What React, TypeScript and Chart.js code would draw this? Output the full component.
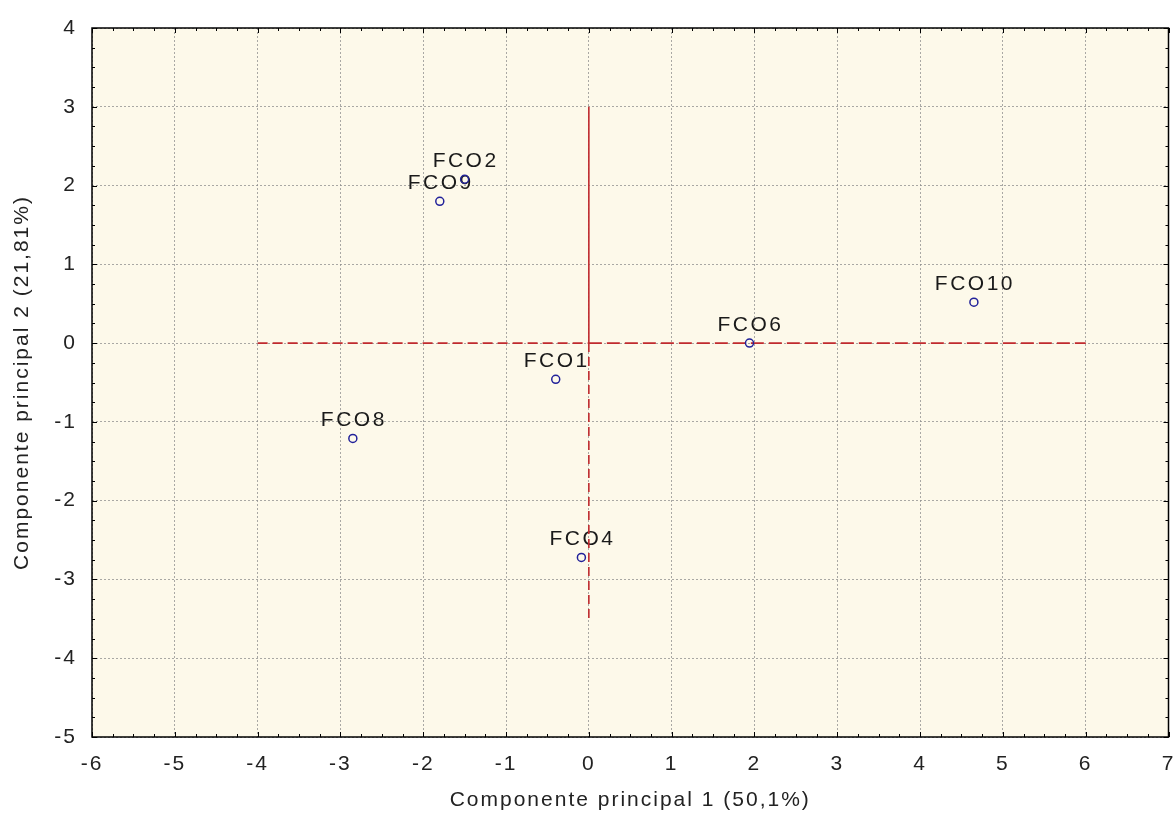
import React, { useEffect, useRef } from "react";
import { Chart, registerables } from "chart.js";

Chart.register(...registerables);

const pointLabels = ["FCO1", "FCO2", "FCO4", "FCO6", "FCO8", "FCO9", "FCO10"];
const pc1Values = [-0.4, -1.5, -0.09, 1.94, -2.85, -1.8, 4.65];
const pc2Values = [-0.46, 2.08, -2.72, 0.0, -1.21, 1.8, 0.52];

const xAxisTitle = "Componente principal 1 (50,1%)";
const yAxisTitle = "Componente principal 2 (21,81%)";
const xRange = [-6, 7];
const yRange = [-5, 4];

const refVerticalUpperX = [0, 0];
const refVerticalUpperY = [0, 3];
const refVerticalLowerX = [0, 0];
const refVerticalLowerY = [0, -3.5];
const refHorizontalLeftX = [-4, 0];
const refHorizontalLeftY = [0, 0];
const refHorizontalRightX = [0, 6];
const refHorizontalRightY = [0, 0];

const FONT = "'Liberation Sans', Arial, sans-serif";
const RED = "#c02a2e";

const toXY = (xs: number[], ys: number[]) => xs.map((x, i) => ({ x, y: ys[i] }));

const framePlugin = {
  id: "frame",
  beforeDraw(chart: any) {
    const { ctx, chartArea } = chart;
    ctx.letterSpacing = "2px";
    ctx.save();
    ctx.fillStyle = "#fdf9ea";
    ctx.fillRect(chartArea.left, chartArea.top, chartArea.right - chartArea.left, chartArea.bottom - chartArea.top);
    ctx.restore();
  },
  afterDraw(chart: any) {
    const { ctx, chartArea, scales } = chart;
    const { left, right, top, bottom } = chartArea;
    ctx.save();
    ctx.strokeStyle = "#000";
    ctx.lineWidth = 1;
    const xs = scales.x;
    const ys = scales.y;
    ctx.beginPath();
    for (let v = xRange[0]; v <= xRange[1] + 1e-9; v += 0.25) {
      const px = Math.round(xs.getPixelForValue(v)) + 0.5;
      const major = Math.abs(v - Math.round(v)) < 1e-6;
      const len = major ? 5 : 3;
      ctx.moveTo(px, bottom);
      ctx.lineTo(px, bottom - len);
      ctx.moveTo(px, top);
      ctx.lineTo(px, top + len);
    }
    for (let v = yRange[0]; v <= yRange[1] + 1e-9; v += 0.25) {
      const py = Math.round(ys.getPixelForValue(v)) + 0.5;
      const major = Math.abs(v - Math.round(v)) < 1e-6;
      const len = major ? 5 : 3;
      ctx.moveTo(left, py);
      ctx.lineTo(left + len, py);
      ctx.moveTo(right, py);
      ctx.lineTo(right - len, py);
    }
    ctx.stroke();
    ctx.lineWidth = 1.5;
    ctx.strokeRect(left, top, right - left, bottom - top);
    ctx.restore();
  },
};

const labelPlugin = {
  id: "pointLabelsPlugin",
  beforeDatasetsDraw(chart: any) {
    const { ctx } = chart;
    const meta = chart.getDatasetMeta(0);
    ctx.save();
    ctx.letterSpacing = "2.5px";
    ctx.font = `21px ${FONT}`;
    ctx.fillStyle = "#1a1a1a";
    ctx.textAlign = "center";
    ctx.textBaseline = "alphabetic";
    meta.data.forEach((el: any, i: number) => {
      ctx.fillText(pointLabels[i], el.x + 1, el.y - 12);
    });
    ctx.restore();
  },
};

export default function App() {
  const ref = useRef<HTMLCanvasElement | null>(null);
  useEffect(() => {
    if (!ref.current) return;
    const chart = new Chart(ref.current, {
      type: "scatter",
      data: {
        datasets: [
          {
            label: "pontos",
            data: toXY(pc1Values, pc2Values),
            pointRadius: 4,
            pointBorderColor: "#22229a",
            pointBackgroundColor: "rgba(0,0,0,0)",
            pointBorderWidth: 1.5,
            showLine: false,
            order: 0,
          },
          {
            label: "v1",
            data: toXY(refVerticalUpperX, refVerticalUpperY),
            showLine: true,
            borderColor: RED,
            borderWidth: 1.6,
            pointRadius: 0,
            order: 1,
          },
          {
            label: "v2",
            data: toXY(refVerticalLowerX, refVerticalLowerY),
            showLine: true,
            borderColor: RED,
            borderWidth: 1.6,
            borderDash: [9, 5],
            pointRadius: 0,
            order: 1,
          },
          {
            label: "h1",
            data: toXY(refHorizontalLeftX, refHorizontalLeftY),
            showLine: true,
            borderColor: RED,
            borderWidth: 1.6,
            borderDash: [10, 5],
            pointRadius: 0,
            order: 1,
          },
          {
            label: "h2",
            data: toXY(refHorizontalRightX, refHorizontalRightY),
            showLine: true,
            borderColor: RED,
            borderWidth: 1.6,
            borderDash: [13, 5],
            pointRadius: 0,
            order: 1,
          },
        ],
      },
      options: {
        animation: false,
        responsive: false,
        layout: { padding: { top: 28, right: 4, left: 0, bottom: 0 } },
        plugins: { legend: { display: false }, tooltip: { enabled: false } },
        scales: {
          x: {
            type: "linear",
            min: xRange[0],
            max: xRange[1],
            afterFit: (s: any) => {
              s.height = 85;
              s.paddingLeft = 0;
              s.paddingRight = 0;
            },
            ticks: {
              stepSize: 1,
              padding: 15,
              color: "#222",
              font: { family: FONT, size: 21 },
            },
            grid: {
              color: "rgba(140,140,140,0.75)",
              lineWidth: 1,
              drawTicks: false,
              tickLength: 0,
            },
            border: { display: false, dash: [2, 2] },
            title: {
              display: true,
              text: xAxisTitle,
              color: "#222",
              font: { family: FONT, size: 21 },
              padding: { top: 0, bottom: 9 },
            },
          },
          y: {
            type: "linear",
            min: yRange[0],
            max: yRange[1],
            afterFit: (s: any) => {
              s.width = 92;
              s.paddingTop = 0;
              s.paddingBottom = 0;
            },
            ticks: {
              stepSize: 1,
              padding: 15,
              color: "#222",
              font: { family: FONT, size: 21 },
            },
            grid: {
              color: "rgba(140,140,140,0.75)",
              lineWidth: 1,
              drawTicks: false,
              tickLength: 0,
            },
            border: { display: false, dash: [2, 2] },
            title: {
              display: true,
              text: yAxisTitle,
              color: "#222",
              font: { family: FONT, size: 21 },
              padding: { top: 10, bottom: 0 },
            },
          },
        },
      },
      plugins: [framePlugin, labelPlugin],
    } as any);
    return () => chart.destroy();
  }, []);
  return (
    <div style={{ position: "absolute", left: 0, top: 0, width: 1174, height: 822, background: "#fff" }}>
      <canvas ref={ref} width={1174} height={822} style={{ display: "block" }} />
    </div>
  );
}
